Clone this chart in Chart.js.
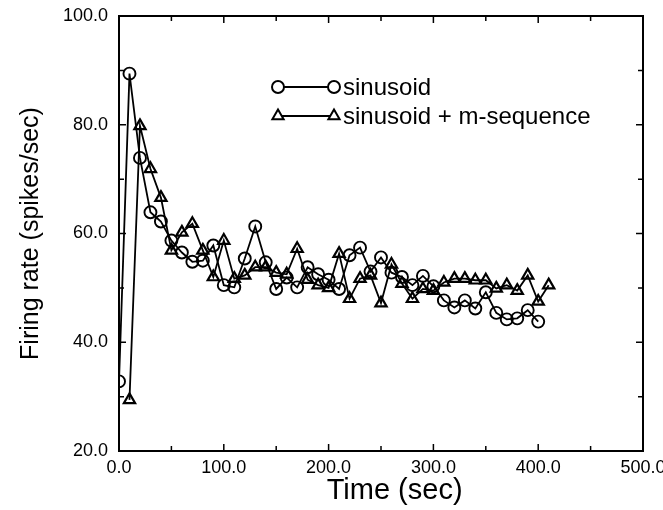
<!DOCTYPE html>
<html lang="en">
<head>
    <meta charset="UTF-8" />
    <title>Firing rate vs time</title>
    <script src="https://cdn.jsdelivr.net/npm/chart.js"></script>
    <style>
        html, body { margin: 0; padding: 0; background: #fff; }
        #wrap { width: 663px; height: 510px; }
    </style>
</head>
<body>
<div id="wrap"><canvas id="rateChart"></canvas></div>
<script>
    // data
    var sinTimes = [0, 10, 20, 30, 40, 50, 60, 70, 80, 90, 100, 110, 120, 130, 140, 150, 160, 170, 180, 190,
        200, 210, 220, 230, 240, 250, 260, 270, 280, 290, 300, 310, 320, 330, 340, 350, 360, 370, 380, 390, 400];
    var sinRates = [32.8, 89.4, 73.9, 63.9, 62.2, 58.7, 56.5, 54.8, 55.0, 57.8, 50.5, 50.1, 55.4, 61.3, 54.7, 49.8, 51.9, 50.1, 53.8, 52.5,
        51.5, 49.8, 56.0, 57.4, 53.0, 55.6, 52.8, 52.0, 50.5, 52.2, 50.3, 47.7, 46.4, 47.7, 46.2, 49.2, 45.4, 44.2, 44.4, 45.9, 43.8];
    var mseqTimes = [10, 20, 30, 40, 50, 60, 70, 80, 90, 100, 110, 120, 130, 140, 150, 160, 170, 180, 190, 200,
        210, 220, 230, 240, 250, 260, 270, 280, 290, 300, 310, 320, 330, 340, 350, 360, 370, 380, 390, 400, 410];
    var mseqRates = [29.4, 79.8, 71.9, 66.6, 56.9, 60.2, 61.8, 56.9, 52.0, 58.7, 51.7, 52.3, 53.8, 53.8, 52.8, 52.5, 57.2, 51.5, 50.5, 50.0,
        56.3, 48.0, 51.7, 52.3, 47.2, 54.3, 50.8, 48.0, 49.8, 49.5, 51.0, 51.7, 51.7, 51.4, 51.4, 49.9, 50.5, 49.5, 52.3, 47.5, 50.5];
    var seriesNames = ['sinusoid', 'sinusoid + m-sequence'];

    var xMajor = [0, 100, 200, 300, 400, 500];
    var xMinor = [50, 150, 250, 350, 450];
    var yMajor = [20, 40, 60, 80, 100];
    var yMinor = [30, 50, 70, 90];
    var xTitle = 'Time (sec)';
    var yTitle = 'Firing rate (spikes/sec)';

    var FONT = "'Liberation Sans', Arial, Helvetica, sans-serif";

    function toPoints(xs, ys) {
        var out = [];
        for (var i = 0; i < xs.length; i++) out.push({ x: xs[i], y: ys[i] });
        return out;
    }

    function drawMarker(ctx, style, x, y, r) {
        ctx.beginPath();
        if (style === 'circle') {
            ctx.arc(x, y, r, 0, Math.PI * 2);
        } else {
            ctx.moveTo(x, y - r);
            ctx.lineTo(x + r * 0.866, y + r * 0.5);
            ctx.lineTo(x - r * 0.866, y + r * 0.5);
            ctx.closePath();
        }
        ctx.fill();
        ctx.stroke();
    }

    // box around the plot plus inward tick marks on all four sides
    var frameTicks = {
        id: 'frameTicks',
        beforeDatasetsDraw: function (chart) {
            var ctx = chart.ctx, a = chart.chartArea;
            var xs = chart.scales.x, ys = chart.scales.y;
            ctx.save();
            ctx.strokeStyle = '#000';
            ctx.lineWidth = 2;
            ctx.strokeRect(a.left, a.top, a.right - a.left, a.bottom - a.top);
            ctx.lineWidth = 1.5;
            ctx.beginPath();
            function xt(v, len) {
                var p = xs.getPixelForValue(v);
                ctx.moveTo(p, a.bottom); ctx.lineTo(p, a.bottom - len);
                ctx.moveTo(p, a.top); ctx.lineTo(p, a.top + len);
            }
            function yt(v, len) {
                var p = ys.getPixelForValue(v);
                ctx.moveTo(a.left, p); ctx.lineTo(a.left + len, p);
                ctx.moveTo(a.right, p); ctx.lineTo(a.right - len, p);
            }
            xMajor.forEach(function (v) { xt(v, 7); });
            xMinor.forEach(function (v) { xt(v, 5); });
            yMajor.forEach(function (v) { yt(v, 7); });
            yMinor.forEach(function (v) { yt(v, 5); });
            ctx.stroke();

            // x axis title sits a little right of centre in the original
            ctx.fillStyle = '#000';
            ctx.font = '29px ' + FONT;
            ctx.textAlign = 'center';
            ctx.textBaseline = 'middle';
            ctx.fillText(xTitle, xs.getPixelForValue(263), 491);
            ctx.restore();
        }
    };

    // legend: short line with a marker at each end, then the label
    var lineLegend = {
        id: 'lineLegend',
        afterDraw: function (chart) {
            var ctx = chart.ctx;
            var x1 = 278, x2 = 334, tx = 343, rows = [87, 116];
            ctx.save();
            chart.data.datasets.forEach(function (ds, i) {
                var y = rows[i];
                ctx.strokeStyle = '#000';
                ctx.lineWidth = 2;
                ctx.beginPath();
                ctx.moveTo(x1, y); ctx.lineTo(x2, y);
                ctx.stroke();
                ctx.fillStyle = '#fff';
                drawMarker(ctx, ds.pointStyle, x1, y, ds.pointRadius);
                drawMarker(ctx, ds.pointStyle, x2, y, ds.pointRadius);
                ctx.fillStyle = '#000';
                ctx.font = '24px ' + FONT;
                ctx.textBaseline = 'middle';
                ctx.fillText(ds.label, tx, y + 1);
            });
            ctx.restore();
        }
    };

    var ctx = document.getElementById('rateChart').getContext('2d');
    var myChart = new Chart(ctx, {
        type: 'line',
        data: {
            datasets: [{
                label: seriesNames[0],
                data: toPoints(sinTimes, sinRates),
                borderColor: '#000',
                borderWidth: 1.8,
                pointStyle: 'circle',
                pointRadius: 6,
                pointBorderWidth: 1.9,
                pointBorderColor: '#000',
                pointBackgroundColor: 'rgba(0,0,0,0)',
                tension: 0
            }, {
                label: seriesNames[1],
                data: toPoints(mseqTimes, mseqRates),
                borderColor: '#000',
                borderWidth: 1.8,
                pointStyle: 'triangle',
                pointRadius: 6.5,
                pointBorderWidth: 2.2,
                pointBorderColor: '#000',
                pointBackgroundColor: 'rgba(0,0,0,0)',
                tension: 0
            }]
        },
        options: {
            responsive: true,
            maintainAspectRatio: false,
            animation: false,
            layout: { padding: { top: 16, right: 20, left: 0, bottom: 0 } },
            plugins: {
                legend: { display: false },
                tooltip: { enabled: false }
            },
            scales: {
                x: {
                    type: 'linear',
                    min: 0,
                    max: 500,
                    afterBuildTicks: function (s) { s.ticks = xMajor.map(function (v) { return { value: v }; }); },
                    afterFit: function (s) { s.paddingLeft = 0; s.paddingRight = 0; s.height = 59; },
                    grid: { display: false, drawTicks: false },
                    border: { display: false },
                    ticks: {
                        color: '#000',
                        padding: 6,
                        maxRotation: 0,
                        autoSkip: false,
                        font: { family: FONT, size: 18 },
                        callback: function (v) { return Number(v).toFixed(1); }
                    },
                    title: { display: false }
                },
                y: {
                    min: 20,
                    max: 100,
                    afterBuildTicks: function (s) { s.ticks = yMajor.map(function (v) { return { value: v }; }); },
                    afterFit: function (s) { s.paddingTop = 0; s.paddingBottom = 0; s.width = 119; },
                    grid: { display: false, drawTicks: false },
                    border: { display: false },
                    ticks: {
                        color: '#000',
                        padding: 11,
                        font: { family: FONT, size: 18 },
                        callback: function (v) { return Number(v).toFixed(1); }
                    },
                    title: {
                        display: true,
                        text: yTitle,
                        color: '#000',
                        font: { family: FONT, size: 25 },
                        padding: { top: 16, bottom: 0 }
                    }
                }
            }
        },
        plugins: [frameTicks, lineLegend]
    });
</script>
</body>
</html>
